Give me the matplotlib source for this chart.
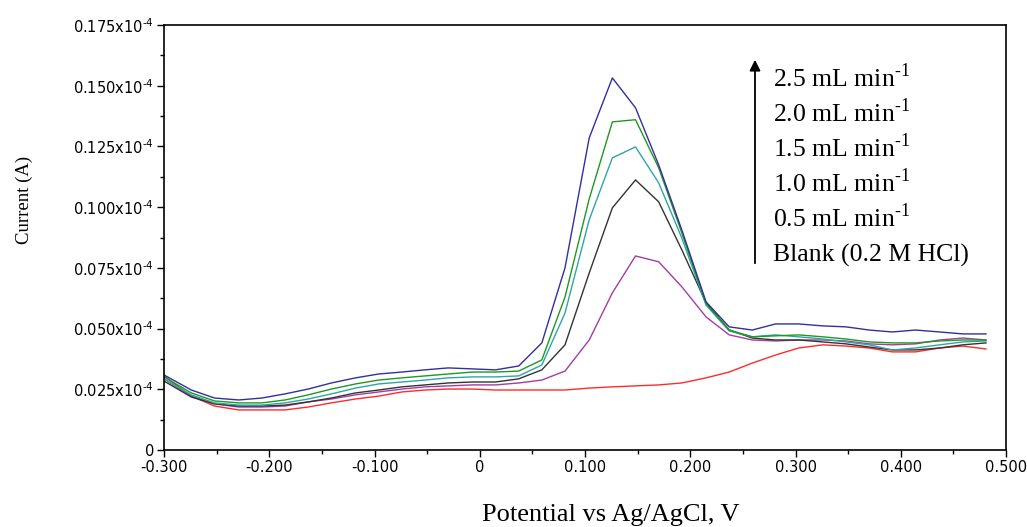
import matplotlib
matplotlib.use('Agg')
from matplotlib import pyplot as plt
from matplotlib.ticker import MultipleLocator, FuncFormatter

# potential (V vs Ag/AgCl)
potentials = [-0.300, -0.274, -0.252, -0.229, -0.207, -0.185, -0.163, -0.141,
              -0.118, -0.096, -0.074, -0.052, -0.030, -0.007, 0.015, 0.037,
              0.059, 0.081, 0.104, 0.126, 0.148, 0.170, 0.192, 0.215,
              0.237, 0.259, 0.281, 0.303, 0.326, 0.348, 0.370, 0.392,
              0.414, 0.437, 0.459, 0.481]

# current in units of 1e-4 A
blank = [0.0305, 0.0222, 0.0181, 0.0165, 0.0165, 0.0165, 0.0177, 0.0194,
         0.0210, 0.0222, 0.0239, 0.0247, 0.0251, 0.0251, 0.0247, 0.0247,
         0.0247, 0.0247, 0.0255, 0.0260, 0.0264, 0.0268, 0.0276, 0.0297,
         0.0321, 0.0358, 0.0391, 0.0420, 0.0433, 0.0428, 0.0420, 0.0404,
         0.0404, 0.0420, 0.0428, 0.0416]
flow_05 = [0.0293, 0.0222, 0.0190, 0.0177, 0.0177, 0.0181, 0.0198, 0.0210,
           0.0227, 0.0239, 0.0251, 0.0260, 0.0264, 0.0268, 0.0268, 0.0276,
           0.0288, 0.0325, 0.0453, 0.0647, 0.0799, 0.0775, 0.0672, 0.0548,
           0.0474, 0.0453, 0.0449, 0.0453, 0.0453, 0.0449, 0.0437, 0.0433,
           0.0437, 0.0453, 0.0461, 0.0453]
flow_10 = [0.0284, 0.0218, 0.0190, 0.0181, 0.0181, 0.0185, 0.0198, 0.0214,
           0.0235, 0.0247, 0.0260, 0.0268, 0.0276, 0.0280, 0.0280, 0.0293,
           0.0330, 0.0433, 0.0729, 0.0997, 0.1112, 0.1022, 0.0824, 0.0606,
           0.0494, 0.0461, 0.0453, 0.0453, 0.0445, 0.0437, 0.0424, 0.0412,
           0.0412, 0.0420, 0.0433, 0.0441]
flow_15 = [0.0293, 0.0227, 0.0194, 0.0185, 0.0185, 0.0194, 0.0210, 0.0231,
           0.0255, 0.0272, 0.0280, 0.0288, 0.0297, 0.0301, 0.0301, 0.0305,
           0.0350, 0.0564, 0.0948, 0.1203, 0.1248, 0.1100, 0.0873, 0.0597,
           0.0490, 0.0466, 0.0474, 0.0466, 0.0457, 0.0445, 0.0433, 0.0412,
           0.0420, 0.0433, 0.0445, 0.0449]
flow_20 = [0.0301, 0.0235, 0.0202, 0.0194, 0.0194, 0.0206, 0.0227, 0.0251,
           0.0272, 0.0288, 0.0297, 0.0305, 0.0313, 0.0321, 0.0321, 0.0325,
           0.0371, 0.0630, 0.1034, 0.1351, 0.1360, 0.1162, 0.0894, 0.0602,
           0.0494, 0.0466, 0.0470, 0.0474, 0.0466, 0.0457, 0.0445, 0.0441,
           0.0441, 0.0449, 0.0453, 0.0453]
flow_25 = [0.0309, 0.0247, 0.0214, 0.0206, 0.0214, 0.0231, 0.0251, 0.0276,
           0.0297, 0.0313, 0.0321, 0.0330, 0.0338, 0.0334, 0.0330, 0.0346,
           0.0441, 0.0750, 0.1285, 0.1532, 0.1409, 0.1174, 0.0906, 0.0610,
           0.0507, 0.0494, 0.0519, 0.0519, 0.0511, 0.0507, 0.0494, 0.0486,
           0.0494, 0.0486, 0.0478, 0.0478]

series = [blank, flow_05, flow_10, flow_15, flow_20, flow_25]
colors = ['#ff2a2a', '#a43ca4', '#333333', '#2ea6a6', '#1f991f', '#30309e']
labels = ['2.5 mL min$^{\u20101}$', '2.0 mL min$^{\u20101}$',
          '1.5 mL min$^{\u20101}$', '1.0 mL min$^{\u20101}$',
          '0.5 mL min$^{\u20101}$', 'Blank (0.2 M HCl)']

plt.rcParams['mathtext.fontset'] = 'custom'
plt.rcParams['mathtext.rm'] = 'Liberation Serif'
plt.rcParams['mathtext.sf'] = 'DejaVu Sans'

W, H = 1027, 527
fig = plt.figure(figsize=(W / 100, H / 100), dpi=100)
ax = fig.add_axes([164 / W, 1 - 450 / H, 842 / W, 425 / H])

for vals, col in zip(series, colors):
    ax.plot(potentials, vals, color=col, lw=1.0)

ax.set_xlim(-0.3, 0.5)
ax.set_ylim(0, 0.175)
ax.xaxis.set_major_locator(MultipleLocator(0.1))
ax.xaxis.set_minor_locator(MultipleLocator(0.05))
ax.yaxis.set_major_locator(MultipleLocator(0.025))
ax.yaxis.set_minor_locator(MultipleLocator(0.0125))


def xfmt(v, pos):
    if abs(v) < 1e-9:
        return '0'
    return '%.3f' % v


def yfmt(v, pos):
    if abs(v) < 1e-9:
        return '0'
    return '%.3fx10$^{\\mathsf{\u20104}}$' % v


ax.xaxis.set_major_formatter(FuncFormatter(xfmt))
ax.yaxis.set_major_formatter(FuncFormatter(yfmt))
ax.tick_params(which='major', direction='out', length=5, width=1,
               labelsize=10.5, pad=2)
ax.tick_params(which='minor', direction='out', length=3, width=1)
for s in ax.spines.values():
    s.set_linewidth(1.2)

fig.text(611 / W, 1 - 515 / H, 'Potential vs Ag/AgCl, V', ha='center',
         va='center', fontsize=19, family='Liberation Serif')
fig.text(24 / W, 1 - 200 / H, 'Current (A)', ha='center', va='center',
         rotation=90, fontsize=13.5, family='Liberation Serif')

ax.annotate('', xy=(755 / W, 1 - 57 / H), xytext=(755 / W, 1 - 266 / H),
            xycoords='figure fraction', textcoords='figure fraction',
            arrowprops=dict(arrowstyle='-|>', color='black', lw=1.3,
                            mutation_scale=16))
for i, lab in enumerate(labels):
    fig.text(773 / W, 1 - (87 + 34.9 * i) / H, lab, ha='left',
             va='baseline', fontsize=18.5, family='Liberation Serif')

fig.savefig('out.png', dpi=100, facecolor='white')
